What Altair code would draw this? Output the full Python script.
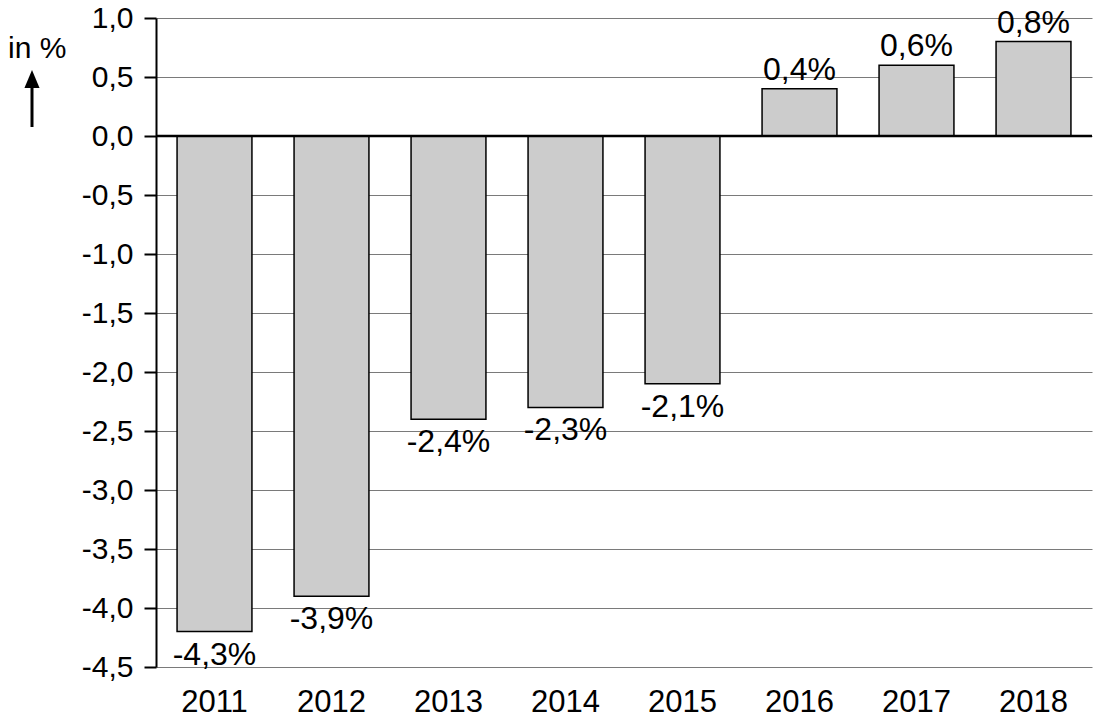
import altair as alt
import pandas as pd

years = ["2011", "2012", "2013", "2014", "2015", "2016", "2017", "2018"]
values = [-4.2, -3.9, -2.4, -2.3, -2.1, 0.4, 0.6, 0.8]
labels = ["-4,3%", "-3,9%", "-2,4%", "-2,3%", "-2,1%", "0,4%", "0,6%", "0,8%"]
y_ticks = [-4.5, -4.0, -3.5, -3.0, -2.5, -2.0, -1.5, -1.0, -0.5, 0.0, 0.5, 1.0]

df = pd.DataFrame({"year": years, "value": values, "label": labels})

FONT = "Liberation Sans"

x_enc = alt.X(
    "year:N",
    sort=years,
    scale=alt.Scale(paddingInner=0.36, paddingOuter=0.18),
    axis=alt.Axis(
        title=None, labelAngle=0, ticks=False, domain=False, grid=False,
        labelFontSize=31, labelPadding=20, labelColor="black", labelFont=FONT,
    ),
)
y_enc = alt.Y(
    "value:Q",
    scale=alt.Scale(domain=[-4.5, 1.0], nice=False, zero=False),
    axis=alt.Axis(
        title=None, values=y_ticks,
        labelExpr="replace(replace(format(datum.value, '.1f'), '.', ','), '\u2212', '-')",
        tickSize=12, tickWidth=2, tickColor="black",
        domainColor="black", domainWidth=2,
        grid=True, gridColor="#7a7a7a", gridWidth=1,
        labelFontSize=30, labelPadding=11, labelColor="black", labelFont=FONT,
    ),
)

base = alt.Chart(df)

bars = base.mark_bar(color="#cccccc", stroke="black", strokeWidth=1.5).encode(
    x=x_enc, y=y_enc, y2=alt.datum(0)
)

zero = alt.Chart(pd.DataFrame({"z": [0.0]})).mark_rule(color="black", strokeWidth=2.5).encode(
    y=alt.Y("z:Q")
)

pos_labels = base.transform_filter("datum.value >= 0").mark_text(
    baseline="alphabetic", dy=-9, fontSize=32, font=FONT, color="black"
).encode(x=alt.X("year:N", sort=years), y=alt.Y("value:Q"), text="label:N")

neg_labels = base.transform_filter("datum.value < 0").mark_text(
    baseline="top", dy=8, fontSize=32, font=FONT, color="black"
).encode(x=alt.X("year:N", sort=years), y=alt.Y("value:Q"), text="label:N")

unit = alt.Chart(pd.DataFrame({"t": ["in %"]})).mark_text(
    fontSize=30, font=FONT, color="black", baseline="alphabetic", align="left"
).encode(x=alt.value(-148), y=alt.value(40), text="t:N")

shaft = alt.Chart(pd.DataFrame({"t": [1]})).mark_rule(color="black", strokeWidth=3).encode(
    x=alt.value(-124), y=alt.value(66), y2=alt.value(109)
)
head = alt.Chart(pd.DataFrame({"t": [1]})).mark_point(
    shape="M -0.84 1 L 0.84 1 L 0 -1 Z", filled=True, color="black", size=324, opacity=1,
    strokeWidth=0
).encode(x=alt.value(-124), y=alt.value(61))

chart = alt.layer(bars, zero, pos_labels, neg_labels, unit, shaft, head).properties(
    width=936, height=649,
    autosize=alt.AutoSizeParams(type="none"),
    padding={"left": 148, "top": 10, "right": 2, "bottom": 50},
    background="white",
).configure_view(stroke=None)

chart.save("out.html", embed_options={"renderer": "svg", "actions": False})
